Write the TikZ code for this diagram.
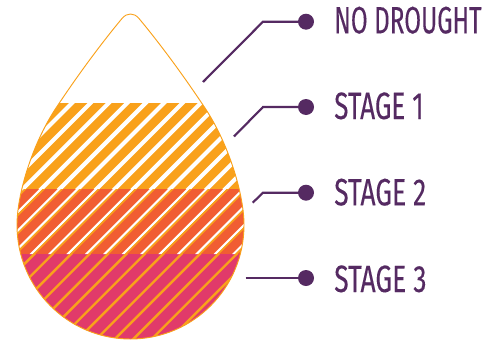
\documentclass[tikz,border=0pt]{standalone}
\usepackage{fontspec}
\usepackage{graphicx}
\setmainfont{Fira Sans}[FakeBold=0.2]
\definecolor{dropor}{HTML}{F9A11B}
\definecolor{dropred}{HTML}{F15D33}
\definecolor{dropmag}{HTML}{E13A6A}
\definecolor{droppur}{HTML}{552A62}
\newcommand{\droppath}{(17,225) .. controls (17,195) and (32,143) .. (58,105) .. controls (78,75) and (100,45) .. (122,18.5) .. controls (127,12.5) and (134,12.5) .. (139,18.5) .. controls (161,45) and (183,75) .. (203,105) .. controls (229,143) and (244,195) .. (244,225) .. controls (244,288) and (193.2,339) .. (130.5,339) .. controls (67.8,339) and (17,288) .. (17,225) -- cycle}
\newcommand{\bandfill}[5]{\fill[#1] ({#2-#4},#4) -- ({#3-#4},#4) -- ({#3-#5},#5) -- ({#2-#5},#5) -- cycle;}
\newcommand{\lab}[2]{\resizebox{#1pt}{20pt}{#2}}
\tikzset{
  leader/.style={draw=droppur,line width=1.6pt},
  dot/.style={circle,fill=droppur,inner sep=0pt,minimum size=12pt},
  tag/.style={anchor=base west,inner sep=0pt,text=droppur},
  rim/.style={draw=dropor,line width=0.7pt}
}
\begin{document}
\begin{tikzpicture}[x=0.75pt,y=-0.75pt]
\useasboundingbox (0,0) rectangle (499,343);
\begin{scope}
  \clip \droppath;
  \fill[dropor] (0,103) rectangle (260,189);
  \fill[dropred] (0,189) rectangle (260,254);
  \fill[dropmag] (0,254) rectangle (260,343);
  \foreach \k in {-4,...,23}{
    \pgfmathsetmacro{\c}{175+18.4*\k}
    \bandfill{white}{\c-2.9}{\c+2.9}{103}{189}
    \bandfill{white}{\c-1.8}{\c+1.4}{189}{254}
    \bandfill{dropor}{\c+1.4}{\c+3.8}{189}{254}
    \bandfill{dropor}{\c+1.2}{\c+4.6}{254}{343}
  }
\end{scope}
\draw[rim] \droppath;
\node[dot] (d0) at (306,21.7) {};
\node[dot] (d1) at (306,107) {};
\node[dot] (d2) at (306,192.7) {};
\node[dot] (d3) at (306,278) {};
\coordinate (e0) at (263,21.7);
\coordinate (e1) at (263,107);
\coordinate (e2) at (263,192.7);
\coordinate (f0) at (203,82);
\coordinate (f1) at (234,136.5);
\coordinate (f2) at (252.7,202.7);
\coordinate (f3) at (245.5,278);
\draw[leader] (f0) -- (e0) -- (d0.center);
\draw[leader] (f1) -- (e1) -- (d1.center);
\draw[leader] (f2) -- (e2) -- (d2.center);
\draw[leader] (f3) -- (d3.center);
\node[tag] (t0) at (334,33.3) {\lab{110.5}{NO DROUGHT}};
\node[tag] (t1) at (334,119) {\lab{67}{STAGE 1}};
\node[tag] (t2) at (334,205.3) {\lab{69}{STAGE 2}};
\node[tag] (t3) at (334,292) {\lab{69.2}{STAGE 3}};
\end{tikzpicture}
\end{document}
